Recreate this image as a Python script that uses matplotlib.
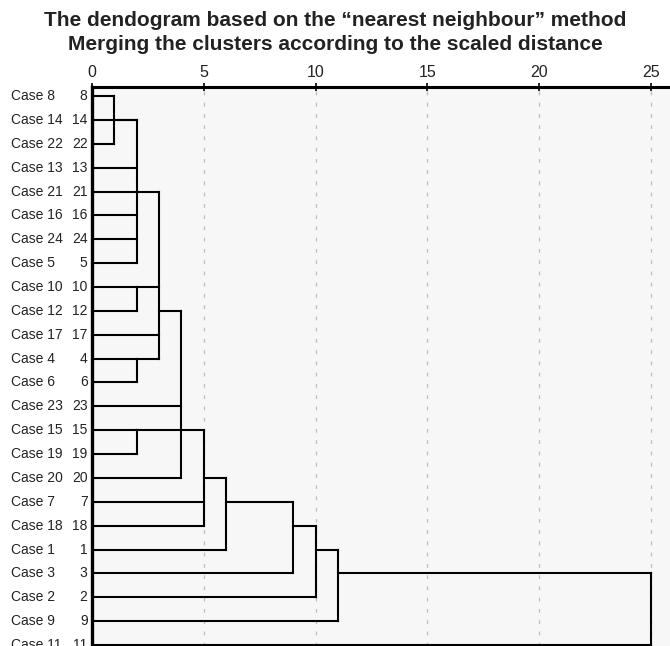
import matplotlib.pyplot as plt
from matplotlib import font_manager

# leaf order, top to bottom
cases = ['8', '14', '22', '13', '21', '16', '24', '5', '10', '12', '17', '4',
         '6', '23', '15', '19', '20', '7', '18', '1', '3', '2', '9', '11']

# merges: name, children, scaled distance, case whose row carries the new cluster on
merges = [
    ('A', ['8', '22'], 1, '14'),
    ('B', ['A', '14', '13', '21', '16', '24', '5'], 2, '21'),
    ('C1', ['10', '12'], 2, '10'),
    ('C2', ['4', '6'], 2, '4'),
    ('C', ['B', 'C1', '17', 'C2'], 3, '12'),
    ('D1', ['15', '19'], 2, '15'),
    ('D', ['C', '23', 'D1', '20'], 4, '15'),
    ('E', ['D', '7', '18'], 5, '20'),
    ('F', ['E', '1'], 6, '7'),
    ('G', ['F', '3'], 9, '18'),
    ('H', ['G', '2'], 10, '1'),
    ('I', ['H', '9'], 11, '3'),
    ('J', ['I', '11'], 25, None),
]

xticks = [0, 5, 10, 15, 20, 25]

title_lines = ['The dendogram based on the \u201cnearest neighbour\u201d method',
               'Merging the clusters according to the scaled distance']

narrow = 'Liberation Sans Narrow'
names = {f.name for f in font_manager.fontManager.ttflist}
if narrow not in names:
    narrow = 'Liberation Sans'

fig = plt.figure(figsize=(6.7, 6.46), dpi=100)
ax = fig.add_axes([0.1373, 0.0, 0.8627, 0.8653])
ax.set_facecolor('#f7f7f7')

row = {c: i for i, c in enumerate(cases)}
nodes = {c: (row[c], 0) for c in cases}  # (row, start x)
lw = 1.5
for name, children, d, out in merges:
    rs = []
    for ch in children:
        r, x0 = nodes[ch]
        ax.plot([x0, d], [r, r], color='black', lw=lw, solid_capstyle='projecting', zorder=3)
        rs.append(r)
    ax.plot([d, d], [min(rs), max(rs)], color='black', lw=lw, solid_capstyle='projecting', zorder=3)
    if out is not None:
        nodes[name] = (row[out], d)

ax.set_xlim(0, 25.85)
ax.set_ylim(23.04, -0.38)

for x in xticks[1:]:
    ax.axvline(x, color='#bdbdbd', lw=0.9, ls=(0, (3, 6)), zorder=1)

ax.xaxis.tick_top()
ax.set_xticks(xticks)
ax.set_xticklabels([str(x) for x in xticks], fontsize=11.5, family=narrow, color='#222222')
ax.tick_params(axis='x', length=6, width=1.2, direction='inout', pad=2)
ax.set_yticks([])

for s in ['right', 'bottom']:
    ax.spines[s].set_visible(False)
ax.spines['top'].set_linewidth(2.2)
ax.spines['left'].set_linewidth(2.4)

for c in cases:
    ax.text(-0.2, row[c], c, ha='right', va='center', fontsize=10, family=narrow, color='#222222')
    ax.text(-3.62, row[c], 'Case ' + c, ha='left', va='center', fontsize=10, family=narrow,
            color='#222222')

fig.text(0.5, 1 - 20 / 646, title_lines[0], ha='center', va='center', fontsize=15,
         fontweight='bold', family='Liberation Sans', color='#222222')
fig.text(0.5, 1 - 45 / 646, title_lines[1], ha='center', va='center', fontsize=15,
         fontweight='bold', family='Liberation Sans', color='#222222')

fig.savefig('out.png', dpi=100)
